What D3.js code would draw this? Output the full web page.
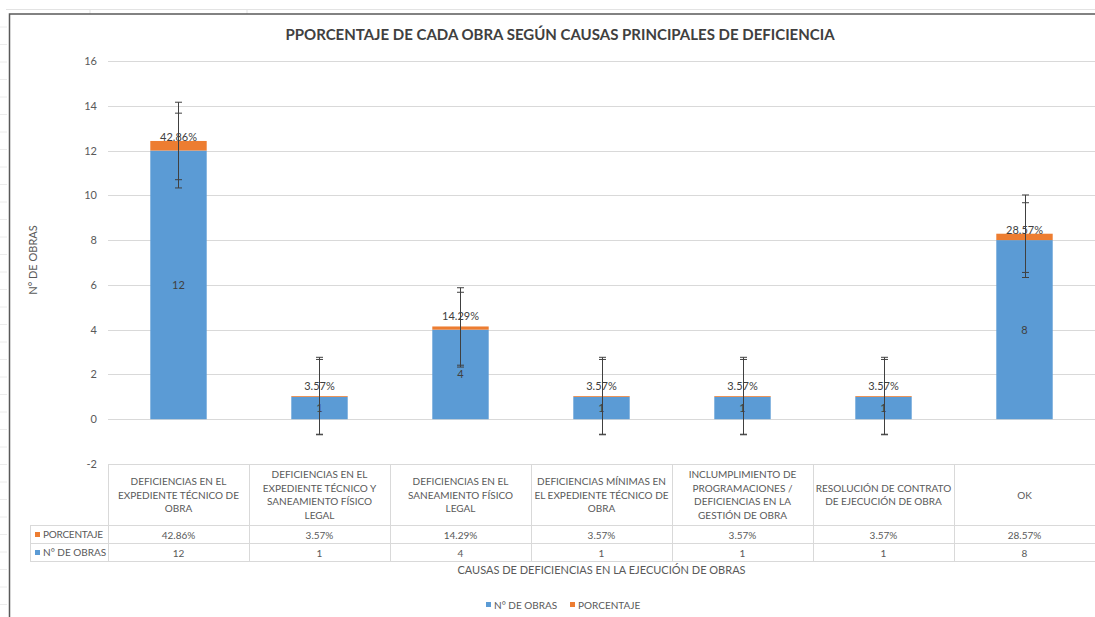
<!DOCTYPE html>
<html>
<head>
<meta charset="utf-8">
<script src="https://cdn.jsdelivr.net/npm/d3@7"></script>
<style>
  body { margin: 0; background: #fff; }
  svg { display: block; font-family: Lato, "Open Sans", sans-serif; }
</style>
</head>
<body>
<svg width="1095" height="617"></svg>
<script>

// data
var categories = [
    "DEFICIENCIAS EN EL\nEXPEDIENTE TÉCNICO DE\nOBRA",
    "DEFICIENCIAS EN EL\nEXPEDIENTE TÉCNICO Y\nSANEAMIENTO FÍSICO\nLEGAL",
    "DEFICIENCIAS EN EL\nSANEAMIENTO FÍSICO\nLEGAL",
    "DEFICIENCIAS MÍNIMAS EN\nEL EXPEDIENTE TÉCNICO DE\nOBRA",
    "INCLUMPLIMIENTO DE\nPROGRAMACIONES /\nDEFICIENCIAS EN LA\nGESTIÓN DE OBRA",
    "RESOLUCIÓN DE CONTRATO\nDE EJECUCIÓN DE OBRA",
    "OK"
];
var obras = [12, 1, 4, 1, 1, 1, 8];
var porcentaje = [0.4286, 0.0357, 0.1429, 0.0357, 0.0357, 0.0357, 0.2857];
var errObras = [1.67, 1.67, 1.67, 1.67, 1.67, 1.67, 1.67];
var errPorcentaje = [1.73, 1.73, 1.73, 1.73, 1.73, 1.73, 1.73];
var yTicks = [-2, 0, 2, 4, 6, 8, 10, 12, 14, 16];
var seriesNames = ["N° DE OBRAS", "PORCENTAJE"];

var blue = "#5b9bd5",
    orange = "#ed7d31",
    grid = "#d9d9d9",
    txt = "#595959";

var svg = d3.select("svg"),
    width = +svg.attr("width"),
    height = +svg.attr("height");

var plot = { left: 108, right: 1095, top: 61, bottom: 464 };

// spreadsheet bits behind the chart
svg.append("line").attr("x1", 6).attr("x2", width).attr("y1", 9.5).attr("y2", 9.5)
    .attr("stroke", "#e3e3e3");
[90, 247].forEach(function (x) {
    svg.append("line").attr("x1", x).attr("x2", x).attr("y1", 9).attr("y2", 14)
        .attr("stroke", "#e3e3e3");
});
d3.range(27, 617, 17.5).forEach(function (y) {
    svg.append("line").attr("x1", 0).attr("x2", 7).attr("y1", y).attr("y2", y)
        .attr("stroke", "#ececec");
});

// chart border
svg.append("path")
    .attr("d", "M9.5," + height + "V14H" + width)
    .attr("fill", "none")
    .attr("stroke", "#595959")
    .attr("stroke-width", 1.5);

var x = d3.scaleBand()
    .domain(d3.range(categories.length))
    .range([plot.left, plot.right])
    .paddingInner(0.6)
    .paddingOuter(0.3);

var y = d3.scaleLinear()
    .domain([-2, 16])
    .range([plot.bottom, plot.top]);

var step = x.step();
function colLeft(i) { return plot.left + i * step; }
function colMid(i) { return x(i) + x.bandwidth() / 2; }

// title
svg.append("text")
    .attr("x", 560)
    .attr("y", 40)
    .attr("text-anchor", "middle")
    .attr("font-size", "15px")
    .attr("font-weight", "bold")
    .attr("fill", "#404040")
    .text("PPORCENTAJE DE CADA OBRA SEGÚN CAUSAS PRINCIPALES DE DEFICIENCIA");

// gridlines + y labels
svg.append("g")
    .attr("class", "grid")
    .selectAll("line")
    .data(yTicks)
    .enter().append("line")
    .attr("x1", plot.left)
    .attr("x2", plot.right)
    .attr("y1", function (d) { return Math.round(y(d)) + 0.5; })
    .attr("y2", function (d) { return Math.round(y(d)) + 0.5; })
    .attr("stroke", grid);

svg.append("g")
    .selectAll("text")
    .data(yTicks)
    .enter().append("text")
    .attr("x", 97)
    .attr("y", function (d) { return y(d) + 4; })
    .attr("text-anchor", "end")
    .attr("font-size", "11px")
    .attr("fill", txt)
    .text(function (d) { return d; });

svg.append("text")
    .attr("transform", "translate(37,260) rotate(-90)")
    .attr("text-anchor", "middle")
    .attr("font-size", "11px")
    .attr("fill", txt)
    .text("N° DE OBRAS");

// stacked bars
var bars = svg.append("g").attr("class", "bars");

bars.selectAll(".obras")
    .data(obras)
    .enter().append("rect")
    .attr("x", function (d, i) { return x(i); })
    .attr("y", function (d) { return y(d); })
    .attr("width", x.bandwidth())
    .attr("height", function (d) { return y(0) - y(d); })
    .attr("fill", blue);

bars.selectAll(".pct")
    .data(porcentaje)
    .enter().append("rect")
    .attr("x", function (d, i) { return x(i); })
    .attr("y", function (d, i) { return y(obras[i] + d); })
    .attr("width", x.bandwidth())
    .attr("height", function (d, i) { return y(obras[i]) - y(obras[i] + d); })
    .attr("fill", orange);

// error bars for both series
function errorBars(vals, errs) {
    var g = svg.append("g").attr("stroke", "#404040").attr("stroke-width", 1);
    vals.forEach(function (v, i) {
        var cx = Math.round(colMid(i)) + 0.5,
            hi = y(v + errs[i]),
            lo = y(v - errs[i]);
        g.append("line").attr("x1", cx).attr("x2", cx).attr("y1", hi).attr("y2", lo);
        g.append("line").attr("x1", cx - 3.5).attr("x2", cx + 3.5).attr("y1", hi).attr("y2", hi);
        g.append("line").attr("x1", cx - 3.5).attr("x2", cx + 3.5).attr("y1", lo).attr("y2", lo);
    });
}
errorBars(obras, errObras);
errorBars(obras.map(function (d, i) { return d + porcentaje[i]; }), errPorcentaje);

var pctFmt = d3.format(".2%");

// data labels
svg.append("g")
    .selectAll("text")
    .data(obras)
    .enter().append("text")
    .attr("x", function (d, i) { return colMid(i); })
    .attr("y", function (d) { return (y(0) + y(d)) / 2 + 4; })
    .attr("text-anchor", "middle")
    .attr("font-size", "11px")
    .attr("fill", "#404040")
    .text(function (d) { return d; });

svg.append("g")
    .selectAll("text")
    .data(porcentaje)
    .enter().append("text")
    .attr("x", function (d, i) { return colMid(i); })
    .attr("y", function (d, i) { return y(obras[i] + d) - (obras[i] > 5 ? 0 : 6); })
    .attr("text-anchor", "middle")
    .attr("font-size", "11px")
    .attr("fill", "#404040")
    .text(function (d) { return pctFmt(d); });

// data table
var rows = { top: 464.5, cat: 525.5, pct: 543.5, bot: 561.5, labelLeft: 30 };
var table = svg.append("g").attr("class", "table")
    .attr("stroke", grid).attr("fill", "none");

table.append("line").attr("x1", plot.left).attr("x2", plot.right).attr("y1", rows.top).attr("y2", rows.top);
[rows.cat, rows.pct, rows.bot].forEach(function (yy) {
    table.append("line").attr("x1", rows.labelLeft).attr("x2", plot.right).attr("y1", yy).attr("y2", yy);
});
table.append("line").attr("x1", rows.labelLeft + 0.5).attr("x2", rows.labelLeft + 0.5)
    .attr("y1", rows.cat).attr("y2", rows.bot);
d3.range(categories.length + 1).forEach(function (i) {
    var xx = Math.round(colLeft(i)) + 0.5;
    table.append("line").attr("x1", xx).attr("x2", xx).attr("y1", rows.top).attr("y2", rows.bot);
});

categories.forEach(function (c, i) {
    var lines = c.split("\n");
    var t = svg.append("text")
        .attr("text-anchor", "middle")
        .attr("font-size", "10px")
        .attr("fill", txt);
    var lh = 13.8,
        y0 = (rows.top + rows.cat) / 2 - (lines.length - 1) * lh / 2 + 3.5;
    lines.forEach(function (l, k) {
        t.append("tspan")
            .attr("x", colLeft(i) + step / 2)
            .attr("y", y0 + k * lh)
            .text(l);
    });
});

svg.append("g")
    .selectAll("text")
    .data(porcentaje)
    .enter().append("text")
    .attr("x", function (d, i) { return colLeft(i) + step / 2; })
    .attr("y", (rows.cat + rows.pct) / 2 + 4)
    .attr("text-anchor", "middle")
    .attr("font-size", "10px")
    .attr("fill", txt)
    .text(function (d) { return pctFmt(d); });

svg.append("g")
    .selectAll("text")
    .data(obras)
    .enter().append("text")
    .attr("x", function (d, i) { return colLeft(i) + step / 2; })
    .attr("y", (rows.pct + rows.bot) / 2 + 4)
    .attr("text-anchor", "middle")
    .attr("font-size", "10px")
    .attr("fill", txt)
    .text(function (d) { return d; });

// row keys in table
[[seriesNames[1], orange, rows.cat], [seriesNames[0], blue, rows.pct]].forEach(function (r) {
    svg.append("rect")
        .attr("x", 35).attr("y", r[2] + 6.5)
        .attr("width", 5).attr("height", 5)
        .attr("fill", r[1]);
    svg.append("text")
        .attr("x", 43).attr("y", r[2] + 12.5)
        .attr("font-size", "10px")
        .attr("fill", txt)
        .attr("textLength", r[0] === "PORCENTAJE" ? 60 : null)
        .text(r[0]);
});

// x axis title
svg.append("text")
    .attr("x", (plot.left + plot.right) / 2)
    .attr("y", 574)
    .attr("text-anchor", "middle")
    .attr("font-size", "11px")
    .attr("fill", txt)
    .text("CAUSAS DE DEFICIENCIAS EN LA EJECUCIÓN DE OBRAS");

// legend
var legend = svg.append("g")
    .attr("class", "legend")
    .attr("transform", "translate(486,602)");
var lx = 0;
[[seriesNames[0], blue], [seriesNames[1], orange]].forEach(function (s) {
    legend.append("rect").attr("x", lx).attr("y", 0).attr("width", 5).attr("height", 5).attr("fill", s[1]);
    legend.append("text")
        .attr("x", lx + 8).attr("y", 6.5)
        .attr("font-size", "10px")
        .attr("fill", txt)
        .text(s[0]);
    lx += 84;
});
</script>
</body>
</html>
